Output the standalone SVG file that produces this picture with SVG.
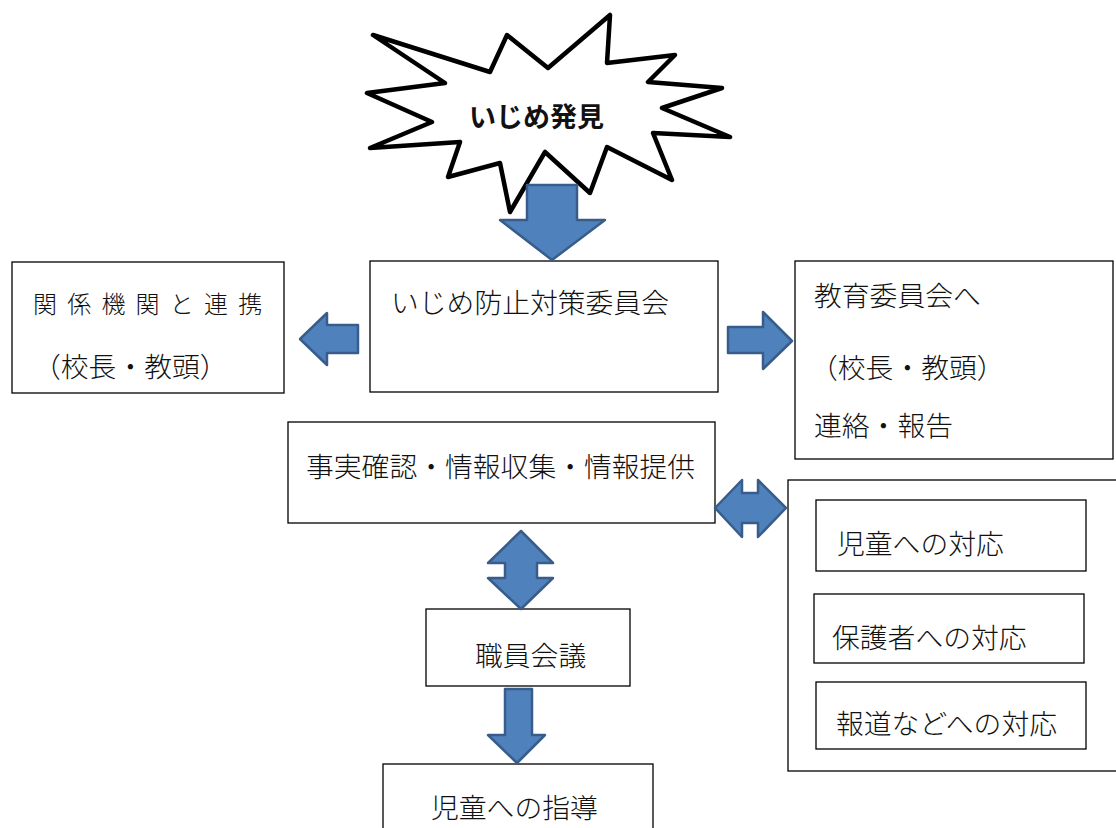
<svg xmlns="http://www.w3.org/2000/svg" width="1116" height="828" viewBox="0 0 1116 828">
<style>
  .box { fill: #ffffff; stroke: #000000; stroke-width: 1.3; }
  .t { font-family: "Noto Sans CJK JP", "Noto Sans", sans-serif; font-size: 27.8px; font-weight: 300; fill: #111111; }
  .arrow { fill: #4F81BD; stroke: #385D8A; stroke-width: 2.5; stroke-linejoin: round; }
  .burst { fill: #ffffff; stroke: #000000; stroke-width: 4.5; stroke-linejoin: round; }
</style>
<rect width="1116" height="828" fill="#ffffff"/>

<g id="node-discovery">
  <polygon class="burst" points="373,35 490,72 507,35 548,68 610,15 607,63 675,55 648,82 722,88 662,108 730,137 653,133 672,180 607,147 590,193 545,152 510,212 500,163 448,177 460,142 370,148 432,122 367,93 445,83"/>
  <text class="t" x="469" y="127" style="font-weight:bold;font-size:27px">いじめ発見</text>
</g>

<g id="node-committee">
  <rect class="box" x="370" y="261" width="348" height="131"/>
  <text class="t" x="391" y="313">いじめ防止対策委員会</text>
</g>

<g id="node-agencies">
  <rect class="box" x="12" y="262" width="272" height="131"/>
  <text class="t" x="33" y="313" style="font-size:24px;letter-spacing:10.2px">関係機関と連携</text>
  <text class="t" x="33" y="377">（校長・教頭）</text>
</g>

<g id="node-board">
  <rect class="box" x="795" y="261" width="318" height="198"/>
  <text class="t" x="814" y="306">教育委員会へ</text>
  <text class="t" x="810" y="378">（校長・教頭）</text>
  <text class="t" x="814" y="436">連絡・報告</text>
</g>

<g id="node-facts">
  <rect class="box" x="288" y="422" width="427" height="101"/>
  <text class="t" x="306" y="477">事実確認・情報収集・情報提供</text>
</g>

<g id="node-responses">
  <rect class="box" x="788" y="480" width="340" height="291"/>
  <g id="node-resp-children">
    <rect class="box" x="816" y="500" width="270" height="71"/>
    <text class="t" x="837" y="554">児童への対応</text>
  </g>
  <g id="node-resp-guardians">
    <rect class="box" x="814" y="594" width="270" height="69"/>
    <text class="t" x="832" y="648">保護者への対応</text>
  </g>
  <g id="node-resp-media">
    <rect class="box" x="816" y="682" width="270" height="67"/>
    <text class="t" x="836" y="734">報道などへの対応</text>
  </g>
</g>

<g id="node-staff">
  <rect class="box" x="426" y="609" width="204" height="77"/>
  <text class="t" x="475" y="666">職員会議</text>
</g>

<g id="node-guidance">
  <rect class="box" x="383" y="764" width="270" height="80"/>
  <text class="t" x="431" y="818">児童への指導</text>
</g>

<g id="connectors">
  <path class="arrow" d="M527,185 H577 V220 H605 L552,260 L500,220 H527 Z"/>
  <path class="arrow" d="M300,339 L327,313 V325 H358 V353 H327 V365 Z"/>
  <path class="arrow" d="M728,327 H763 V312 L792,341 L763,369 V353 H728 Z"/>
  <path class="arrow" d="M715,508 L742,480 V493 H758 V480 L786,508 L758,537 V523 H742 V537 Z"/>
  <path class="arrow" d="M521,531 L553,563 H537 V578 H553 L521,609 L488,578 H505 V563 H488 Z"/>
  <path class="arrow" d="M505,689 H532 V735 H545 L517,763 L488,735 H505 Z"/>
</g>
</svg>
